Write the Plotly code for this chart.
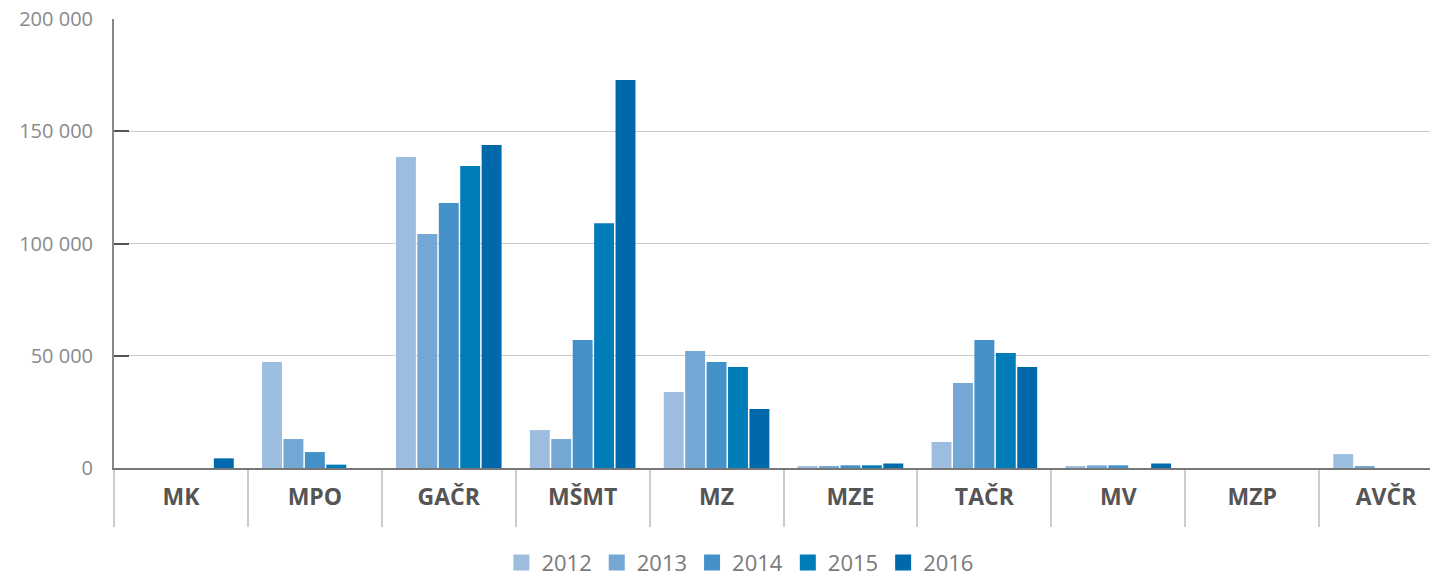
import plotly.graph_objects as go

categories = ["MK", "MPO", "GAČR", "MŠMT", "MZ", "MZE", "TAČR", "MV", "MZP", "AVČR"]
years = ["2012", "2013", "2014", "2015", "2016"]

v2012 = [0, 47200, 138500, 16900, 33900, 500, 11600, 800, 0, 6200]
v2013 = [0, 12900, 104200, 12900, 52100, 600, 37900, 1200, 0, 600]
v2014 = [0, 7100, 118000, 57000, 47200, 1200, 57000, 1200, 0, 0]
v2015 = [0, 1500, 134500, 109000, 45000, 1200, 51200, 0, 0, 0]
v2016 = [4300, 0, 143900, 172800, 26300, 2000, 45000, 2000, 0, 0]
series = [v2012, v2013, v2014, v2015, v2016]

colors = ["#9dbde0", "#74a7d3", "#4391c8", "#007cb9", "#0069ab"]

y_ticks = [0, 50000, 100000, 150000, 200000]

fig = go.Figure()
for name, vals, col in zip(years, series, colors):
    fig.add_trace(go.Bar(x=categories, y=vals, name=name, marker=dict(color=col, line=dict(width=0)),
                         showlegend=False, legendgroup=name))
for name, col in zip(years, colors):
    fig.add_trace(go.Scatter(x=[None], y=[None], mode="markers", name=name, legendgroup=name,
                             marker=dict(symbol="square", size=20, color=col)))

fig.update_layout(
    width=1430, height=580,
    margin=dict(l=114, r=0, t=19, b=112),
    paper_bgcolor="white", plot_bgcolor="white",
    barmode="group", bargap=0.2, bargroupgap=0.07,
    separators=". ",
    font=dict(family="Open Sans", color="#888888"),
    showlegend=True,
    legend=dict(orientation="h", x=0.476, xanchor="center", yref="container", y=0.03, yanchor="middle",
                font=dict(size=22, color="#7a7a7a"), itemsizing="trace",
                traceorder="normal"),
)
fig.update_xaxes(
    type="category", range=[-0.5, 9.328], automargin=False,
    showline=True, linecolor="#777777", linewidth=2,
    ticks="outside", tickson="boundaries", ticklen=57, tickcolor="#cccccc", tickwidth=2,
    ticklabelstandoff=7,
    tickfont=dict(size=23, color="#555555", family="Open Sans", weight="bold"),
    showgrid=False, zeroline=False,
)
fig.update_yaxes(
    range=[0, 200000], tickvals=y_ticks, tickformat=",d", automargin=False,
    showline=True, linecolor="#888888", linewidth=2,
    ticks="inside", ticklen=15, tickcolor="#555555", tickwidth=2,
    showgrid=True, gridcolor="#cccccc", gridwidth=1,
    zeroline=False,
    tickfont=dict(size=20, color="#8a8a8a"),
    ticklabelstandoff=15,
)

fig.write_html("out.html", config={"displayModeBar": False},
               post_script="document.body.style.margin='0px';")
